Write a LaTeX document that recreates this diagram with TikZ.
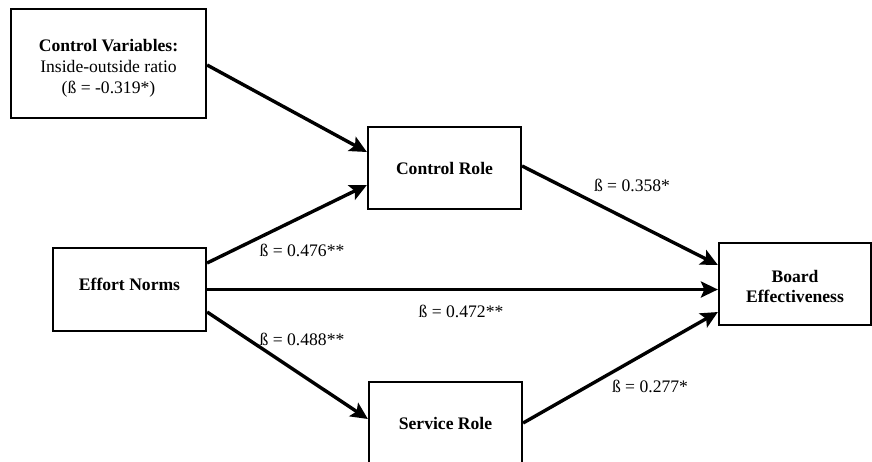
\documentclass[tikz,border=0pt]{standalone}
\usepackage{fontspec}
\setmainfont{Liberation Serif}
\usetikzlibrary{arrows.meta,calc}
\begin{document}
\begin{tikzpicture}[x=1pt,y=-1pt,
  box/.style={draw,line width=2.2pt,inner sep=0pt,align=center,
    font=\fontsize{17.6}{20.8}\selectfont},
  lbl/.style={inner sep=0pt,font=\fontsize{17.6}{20.8}\selectfont},
  path/.style={line width=3.4pt,-{Stealth[length=17pt,width=16pt,inset=3.5pt]}}]
\useasboundingbox (0,0) rectangle (872,461);
% boxes of the path model (struts set the vertical placement of the text)
\node[box,minimum width=195pt,minimum height=109pt] (cv) at (108.5,63.5)
  {\rule{0pt}{22pt}\textbf{Control Variables:}\\Inside-outside ratio\\(ß = -0.319*)};
\node[box,minimum width=153pt,minimum height=82pt] (cr) at (444.5,168) {\textbf{Control Role}};
\node[box,minimum width=153pt,minimum height=83pt] (en) at (129.5,289.5)
  {\rule[-10pt]{0pt}{10pt}\textbf{Effort Norms}};
\node[box,minimum width=153pt,minimum height=82pt] (sr) at (445.5,423) {\textbf{Service Role}};
\node[box,minimum width=152pt,minimum height=82pt] (be) at (795,284)
  {\rule{0pt}{17pt}\textbf{Board}\\\textbf{Effectiveness}};
% paths
\draw[path] ([yshift=-1.5pt]cv.east) -- ([yshift=16pt]cr.west);
\draw[path] ([yshift=26.5pt]en.east) -- ([yshift=-17pt]cr.west);
\draw[path] (en.east) -- (en.east -| be.west);
\draw[path] ([yshift=-22.5pt]en.east) -- ([yshift=4pt]sr.west);
\draw[path] ([yshift=2pt]cr.east) -- ([yshift=19pt]be.west);
\draw[path] (sr.east) -- ([yshift=-28pt]be.west);
% coefficients
\node[lbl] (l1) at (302,250) {ß = 0.476**};
\node[lbl] (l2) at (461,311) {ß = 0.472**};
\node[lbl] (l3) at (302,339) {ß = 0.488**};
\node[lbl] (l4) at (632,185) {ß = 0.358*};
\node[lbl] (l5) at (650,386) {ß = 0.277*};
\end{tikzpicture}
\end{document}
